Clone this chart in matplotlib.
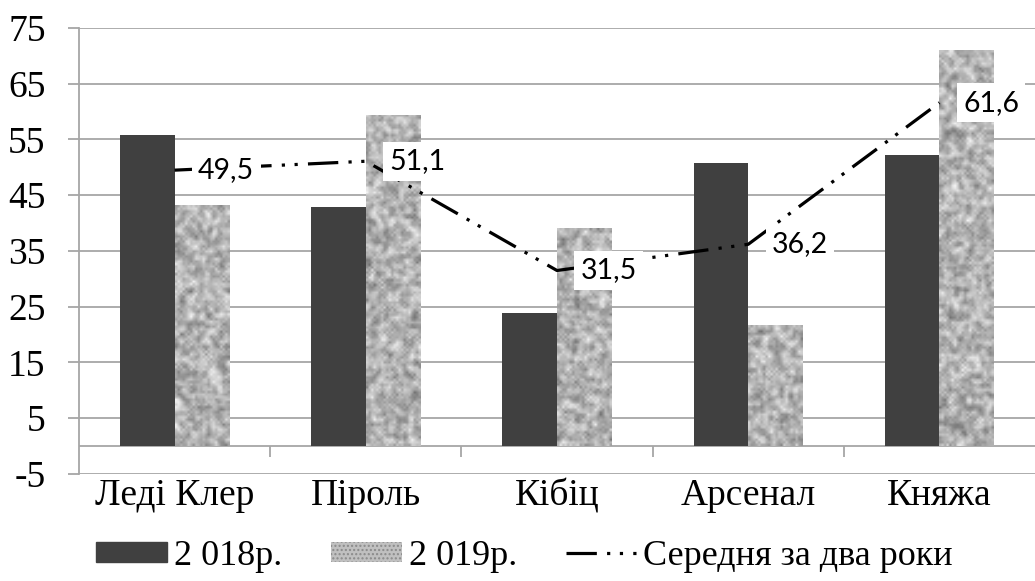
import numpy as np
import matplotlib.pyplot as plt
from matplotlib.patches import Patch
from matplotlib.lines import Line2D

# Дані
sorts = ['Леді Клер', 'Піроль', 'Кібіц', 'Арсенал', 'Княжа']
yield_2018 = [55.8, 42.9, 23.9, 50.7, 52.2]
yield_2019 = [43.2, 59.4, 39.1, 21.7, 71.0]
avg_two_years = [49.5, 51.1, 31.5, 36.2, 61.6]
avg_labels = ['49,5', '51,1', '31,5', '36,2', '61,6']
y_ticks = [-5, 5, 15, 25, 35, 45, 55, 65, 75]

dark = '#404040'
grid_col = '#a6a6a6'
serif = 'Liberation Serif'
dash_style = (0, (9.5, 3.2, 1, 3, 1, 3.2))

fig = plt.figure(figsize=(10.35, 5.81), dpi=100)
ax = fig.add_axes([0.0763, 0.1842, 0.9237, 0.7676])

x = np.arange(len(sorts))
w = 0.285

ax.bar(x - w / 2, yield_2018, width=w, color=dark, zorder=2)
bars19 = ax.bar(x + w / 2, yield_2019, width=w, color='#b0b0b0', zorder=2)

# текстура "граніт" для 2019
rng = np.random.default_rng(3)
for b in bars19:
    h = b.get_height()
    rows = max(int(h * 5.6 / 2.5), 2)
    n = rng.random((rows + 6, 28))
    n = (n + np.roll(n, 1, 0) + np.roll(n, -1, 0) + np.roll(n, 1, 1) + np.roll(n, -1, 1)) / 5
    n = n[3:-3, 3:-3]
    n = (n - n.mean()) / n.std()
    g = np.clip(0.70 + 0.085 * n, 0, 1)
    im = ax.imshow(g, cmap='gray', vmin=0, vmax=1, aspect='auto', interpolation='bilinear',
                   extent=(b.get_x(), b.get_x() + b.get_width(), 0, h), zorder=2)
    im.set_clip_path(b)

ax.plot(x, avg_two_years, color='black', lw=2.3, linestyle=dash_style, zorder=3)
for xi, v, lab in zip(x, avg_two_years, avg_labels):
    ax.annotate(lab, (xi, v), xytext=(17, 0), textcoords='offset points', ha='left', va='center',
                fontsize=20.5, family='Lato', zorder=4,
                bbox=dict(boxstyle='square,pad=0.22', fc='white', ec='none'))

ax.set_xlim(-0.5, len(sorts) - 0.5)
ax.set_ylim(-5, 75)
ax.set_yticks(y_ticks)
ax.set_yticklabels([str(t) for t in y_ticks], family=serif, fontsize=27)
ax.yaxis.grid(True, color=grid_col, lw=1.3, zorder=0)
ax.tick_params(axis='y', length=8, width=1.3, color=grid_col, pad=16)
ax.set_xticks(x)
ax.set_xticklabels(sorts, family=serif, fontsize=27)
ax.tick_params(axis='x', length=0, pad=3)
for s in ['top', 'right', 'bottom']:
    ax.spines[s].set_visible(False)
ax.spines['left'].set_color(grid_col)
ax.spines['left'].set_linewidth(1.3)

# вісь категорій на нулі з поділками між сортами
ax.axhline(0, color=grid_col, lw=1.3, zorder=1)
ax.vlines(x[:-1] + 0.5, -2, 0, color=grid_col, lw=1.3, zorder=1)
ax.set_axisbelow(True)

handles = [Patch(color=dark),
           Patch(facecolor='#c0c0c0', edgecolor='#8a8a8a', hatch='....', lw=0),
           Line2D([], [], color='black', lw=2.3, linestyle=dash_style)]
fig.legend(handles, ['2 018р.', '2 019р.', 'Середня за два роки'], loc='center',
           bbox_to_anchor=(0.507, 0.043), ncol=3, frameon=False,
           prop={'family': serif, 'size': 26}, handlelength=1.95, handleheight=0.48,
           handletextpad=0.2, columnspacing=1.35)

fig.savefig('out.png', dpi=100)
